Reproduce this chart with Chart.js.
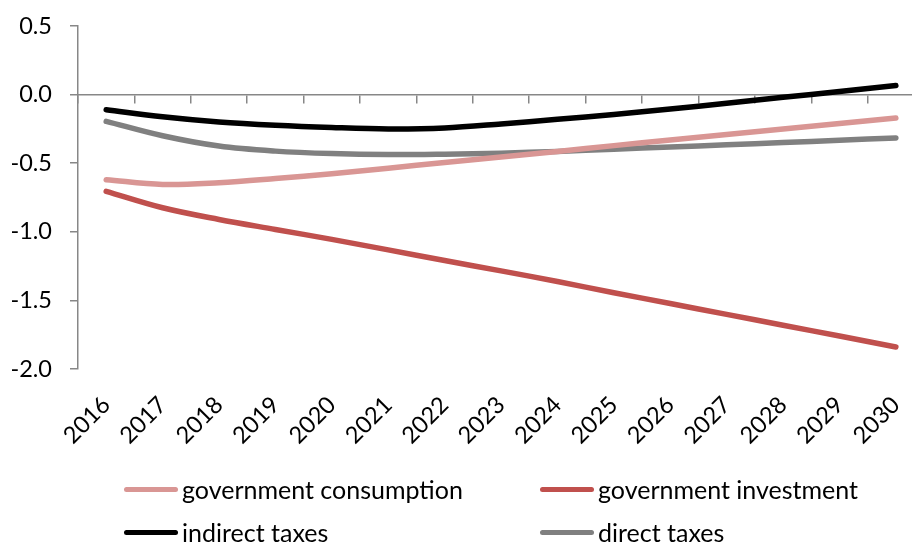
<!DOCTYPE html>
<html>
<head>
<meta charset="utf-8">
<script src="https://cdn.jsdelivr.net/npm/chart.js@4/dist/chart.umd.min.js"></script>
<style>
  html, body { margin: 0; padding: 0; background: #fff; overflow: hidden; }
  #wrap { position: relative; width: 938px; height: 545px; }
  #legend { position: absolute; left: 0; top: 0; width: 912px; height: 545px; pointer-events: none;
            font-family: Lato, sans-serif; font-size: 25px; color: #000; }
  .item { position: absolute; display: flex; align-items: center; white-space: nowrap; }
  .swatch { width: 54px; height: 5px; border-radius: 3px; margin-right: 4px; }
</style>
</head>
<body>
<div id="wrap">
  <canvas id="chart" width="938" height="545"></canvas>
  <div id="legend"></div>
</div>
<script>
// categories and series
var years = ["2016", "2017", "2018", "2019", "2020", "2021", "2022", "2023",
             "2024", "2025", "2026", "2027", "2028", "2029", "2030"];

var govConsumption = [-0.62, -0.655, -0.642, -0.612, -0.577, -0.536, -0.495, -0.455,
                      -0.415, -0.372, -0.331, -0.291, -0.25, -0.21, -0.17];
var govInvestment = [-0.705, -0.825, -0.91, -0.983, -1.055, -1.132, -1.209, -1.285,
                     -1.362, -1.444, -1.523, -1.602, -1.681, -1.76, -1.84];
var indirectTaxes = [-0.11, -0.162, -0.2, -0.224, -0.24, -0.25, -0.243, -0.214,
                     -0.18, -0.145, -0.105, -0.063, -0.02, 0.023, 0.066];
var directTaxes = [-0.195, -0.3, -0.375, -0.412, -0.43, -0.437, -0.434, -0.427,
                   -0.414, -0.398, -0.382, -0.366, -0.35, -0.333, -0.316];

var seriesNames = ["government consumption", "government investment", "indirect taxes", "direct taxes"];
var seriesColors = ["#D99694", "#C0504D", "#000000", "#808080"];

var yTicks = [0.5, 0.0, -0.5, -1.0, -1.5, -2.0];

var axisColor = "#878787";
var tickFont = { family: "Lato", size: 23.5 };

var allSeries = [govConsumption, govInvestment, indirectTaxes, directTaxes];

var datasets = allSeries.map(function (vals, i) {
    return {
        label: seriesNames[i],
        data: vals,
        xAxisID: "x",
        yAxisID: "y",
        borderColor: seriesColors[i],
        backgroundColor: seriesColors[i],
        borderWidth: 5.5,
        borderCapStyle: "round",
        borderJoinStyle: "round",
        pointRadius: 0,
        tension: 0.35,
        fill: false
    };
});

var ctx = document.getElementById("chart").getContext("2d");
var chart = new Chart(ctx, {
    type: "line",
    data: { labels: years, datasets: datasets },
    options: {
        responsive: false,
        animation: false,
        layout: { padding: { top: 26, right: 6, bottom: 100, left: 0 } },
        plugins: { legend: { display: false }, tooltip: { enabled: false } },
        scales: {
            x: {
                type: "category",
                position: "bottom",
                offset: true,
                border: { display: false },
                grid: { display: false, drawTicks: false },
                ticks: {
                    color: "#000",
                    font: tickFont,
                    minRotation: 45,
                    maxRotation: 45,
                    autoSkip: false,
                    padding: 22
                },
                afterFit: function (scale) { scale.height = 76; }
            },
            xz: {
                type: "category",
                labels: years,
                position: { y: 0 },
                offset: true,
                border: { display: true, color: axisColor, width: 1.5 },
                grid: { display: true, offset: true, drawOnChartArea: false, drawTicks: true,
                        tickLength: 8, color: axisColor, lineWidth: 1.5 },
                ticks: { display: false }
            },
            y: {
                position: "left",
                min: -2.0,
                max: 0.5,
                border: { display: true, color: axisColor, width: 1.5 },
                grid: { display: true, drawOnChartArea: false, drawTicks: true,
                        tickLength: 8, color: axisColor, lineWidth: 1.5 },
                afterBuildTicks: function (scale) {
                    scale.ticks = yTicks.map(function (v) { return { value: v }; });
                },
                ticks: {
                    color: "#000",
                    font: tickFont,
                    padding: 18,
                    callback: function (v) { return Number(v).toFixed(1); }
                },
                afterFit: function (scale) {
                    scale.width = 78;
                    scale.paddingTop = 12;
                    scale.paddingBottom = 12;
                }
            }
        }
    }
});

// legend laid out in two columns like the original
var legendPos = [
    { left: 124, top: 489 },
    { left: 540, top: 489 },
    { left: 124, top: 532 },
    { left: 540, top: 532 }
];
var legend = document.getElementById("legend");
seriesNames.forEach(function (name, i) {
    var item = document.createElement("div");
    item.className = "item";
    item.style.left = legendPos[i].left + "px";
    item.style.top = (legendPos[i].top - 16) + "px";
    item.style.height = "32px";
    var sw = document.createElement("span");
    sw.className = "swatch";
    sw.style.background = seriesColors[i];
    var txt = document.createElement("span");
    txt.textContent = name;
    item.appendChild(sw);
    item.appendChild(txt);
    legend.appendChild(item);
});
</script>
</body>
</html>
